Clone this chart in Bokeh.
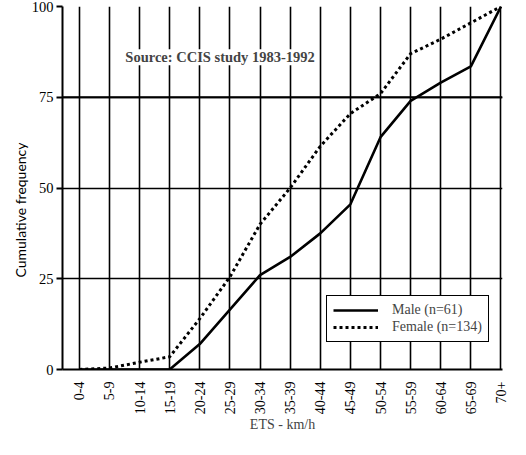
import math
from bokeh.plotting import figure
from bokeh.models import Range1d, FixedTicker, Label, Span, Legend, LegendItem, Title
from bokeh.embed import file_html
from bokeh.resources import INLINE

categories = ["0-4", "5-9", "10-14", "15-19", "20-24", "25-29", "30-34", "35-39",
              "40-44", "45-49", "50-54", "55-59", "60-64", "65-69", "70+"]
male = [0, 0, 0, 0, 7, 16.5, 26, 31, 37.5, 45.5, 64, 74, 79, 83.5, 100]
female = [0, 0.4, 2, 3.5, 14, 25.5, 40, 50, 61.5, 70.5, 76, 87, 91, 95.5, 100]
y_ticks = [0, 25, 50, 75, 100]

FONT = "Liberation Serif"
xs = list(range(len(categories)))

p = figure(width=510, height=439, x_range=Range1d(-0.557, 14.05), y_range=Range1d(0, 100),
           output_backend="svg", toolbar_location=None,
           min_border_left=62, min_border_right=8, min_border_top=6, min_border_bottom=70)
p.outline_line_color = None
p.background_fill_color = "white"
p.border_fill_color = "white"

# axes
p.xaxis.ticker = FixedTicker(ticks=xs)
p.xaxis.major_label_overrides = {i: c for i, c in enumerate(categories)}
p.xaxis.major_label_orientation = math.pi / 2
p.xaxis.major_tick_out = 0
p.xaxis.major_tick_in = 0
p.xaxis.minor_tick_line_color = None
p.xaxis.major_label_standoff = 12
p.xaxis.major_label_text_font = FONT
p.xaxis.major_label_text_font_size = "14px"
p.xaxis.major_label_text_color = "black"
p.xaxis.axis_line_width = 2
p.xaxis.axis_line_color = "black"
p.xaxis.axis_label = "ETS - km/h"
p.xaxis.axis_label_text_font = FONT
p.xaxis.axis_label_text_font_style = "normal"
p.xaxis.axis_label_text_font_size = "14px"
p.xaxis.axis_label_standoff = 0

p.yaxis.ticker = FixedTicker(ticks=y_ticks)
p.yaxis.major_tick_out = 6
p.yaxis.major_tick_in = 0
p.yaxis.major_tick_line_width = 2
p.yaxis.minor_tick_line_color = None
p.yaxis.major_label_standoff = 3
p.yaxis.major_label_text_font = FONT
p.yaxis.major_label_text_font_size = "14.5px"
p.yaxis.major_label_text_color = "black"
p.yaxis.axis_line_width = 2
p.yaxis.axis_line_color = "black"

# grids
p.xgrid.ticker = FixedTicker(ticks=xs)
p.xgrid.grid_line_color = "black"
p.xgrid.grid_line_width = 1.6
p.xgrid.grid_line_alpha = 1
p.ygrid.ticker = FixedTicker(ticks=y_ticks)
p.ygrid.grid_line_color = "black"
p.ygrid.grid_line_width = 1.6
p.ygrid.grid_line_alpha = 1
p.add_layout(Span(location=75, dimension="width", line_color="black", line_width=2.2))

# lines
r_m = p.line(xs, male, line_color="black", line_width=2.6)
r_f = p.line(xs, female, line_color="black", line_width=3, line_dash="3 3")

legend = Legend(items=[LegendItem(label="Male (n=61)", renderers=[r_m]),
                       LegendItem(label="Female (n=134)", renderers=[r_f])],
                location=(264, 27))
legend.border_line_color = "black"
legend.border_line_width = 1.5
legend.border_line_alpha = 1
legend.background_fill_color = "white"
legend.background_fill_alpha = 1
legend.label_text_font = FONT
legend.label_text_font_size = "14px"
legend.glyph_width = 45
legend.glyph_height = 16
legend.label_standoff = 14
legend.spacing = 1
legend.padding = 6
legend.margin = 0
p.add_layout(legend)

# source note
p.add_layout(Label(x=1.53, y=86, text="Source: CCIS study 1983-1992", text_font=FONT,
                   text_font_style="bold", text_font_size="14.5px", text_baseline="middle",
                   background_fill_color="white", background_fill_alpha=1))

# y-axis title
p.add_layout(Title(text="Cumulative frequency", align="left", offset=92,
                   text_font="Lato", text_font_size="14px", text_font_style="normal",
                   text_color="black", standoff=0), "left")

open("out.html", "w").write(file_html(p, INLINE))
